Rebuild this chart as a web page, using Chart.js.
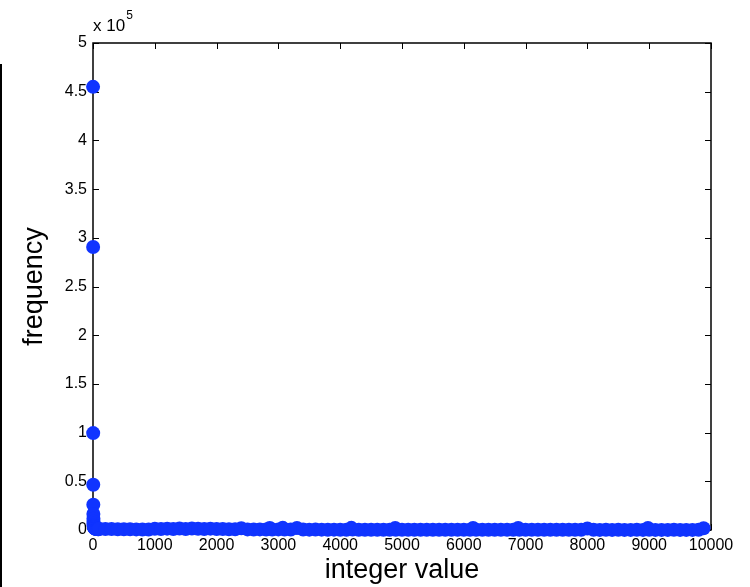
<!DOCTYPE html>
<html>
<head>
<meta charset="utf-8">
<script src="https://cdn.jsdelivr.net/npm/chart.js@4/dist/chart.umd.min.js"></script>
<style>
  html, body { margin: 0; padding: 0; background: #fff; }
  #wrap { position: relative; width: 750px; height: 587px; }
  canvas { display: block; }
</style>
</head>
<body>
<div id="wrap"><canvas id="c" width="750" height="587"></canvas></div>
<script>
// ---- data ----
const integerValues = [
  1,2,3,4,5,6,7,8,9,10,12,14,16,18,20,25,30,35,40,50,60,70,80,90,
  100,200,300,400,500,600,700,800,900,1000,1100,1200,1300,1400,1500,1600,1700,1800,1900,
  2000,2100,2200,2300,2400,2500,2600,2700,2800,2860,2900,3000,3070,3100,3200,3300,3400,3500,
  3600,3700,3800,3900,4000,4100,4180,4200,4300,4400,4500,4600,4700,4800,4890,4900,5000,
  5100,5200,5300,5400,5500,5600,5700,5800,5900,6000,6100,6150,6200,6300,6400,6500,6600,
  6700,6800,6880,6900,7000,7100,7200,7300,7400,7500,7600,7700,7800,7900,8000,8100,8200,
  8300,8400,8500,8600,8700,8800,8900,8980,9000,9100,9200,9300,9400,9500,9600,9700,9800,9880
];
const frequencies = [
  455000,290500,99500,46500,26000,16500,11500,8500,6500,5200,4200,3500,3000,2600,2300,2000,1700,1500,1300,1100,1000,900,850,800,
  1300,1100,900,800,700,650,600,550,500,1200,900,1400,1000,1500,1100,1600,1300,1000,1400,
  900,1100,800,700,1800,600,500,600,500,2000,500,600,2200,500,400,2000,400,350,
  400,350,300,350,300,300,2200,400,300,300,250,300,250,300,2000,300,250,
  250,200,250,200,250,200,200,250,200,200,250,2000,200,200,200,150,200,
  150,200,2000,200,150,150,200,150,150,150,200,150,150,150,1500,150,100,
  150,100,150,100,100,150,100,2000,150,100,100,100,150,100,100,100,150,1800
];
const xTicks = [0,1000,2000,3000,4000,5000,6000,7000,8000,9000,10000];
const yTicks = [0,50000,100000,150000,200000,250000,300000,350000,400000,450000,500000];
const yExponentLabel = ['x 10', '5'];

const points = integerValues.map((x, i) => ({ x: x, y: frequencies[i] }));
const FONT = '"Liberation Sans", Arial, Helvetica, sans-serif';

const framePlugin = {
  id: 'frame',
  beforeDatasetsDraw(chart) {
    const { ctx, chartArea: a, scales } = chart;
    ctx.save();
    ctx.strokeStyle = '#000';
    ctx.lineWidth = 1.5;
    ctx.strokeRect(a.left, a.top, a.right - a.left, a.bottom - a.top);
    ctx.lineWidth = 1;
    const L = 6;
    ctx.beginPath();
    xTicks.forEach(v => {
      const px = Math.round(scales.x.getPixelForValue(v)) + 0.5;
      ctx.moveTo(px, a.bottom); ctx.lineTo(px, a.bottom - L);
      ctx.moveTo(px, a.top); ctx.lineTo(px, a.top + L);
    });
    yTicks.forEach(v => {
      const py = Math.round(scales.y.getPixelForValue(v)) + 0.5;
      ctx.moveTo(a.left, py); ctx.lineTo(a.left + L, py);
      ctx.moveTo(a.right, py); ctx.lineTo(a.right - L, py);
    });
    ctx.stroke();
    // exponent label
    ctx.fillStyle = '#000';
    ctx.textBaseline = 'alphabetic';
    ctx.textAlign = 'left';
    ctx.font = '17px ' + FONT;
    ctx.fillText(yExponentLabel[0], a.left, 31);
    const w = ctx.measureText(yExponentLabel[0]).width;
    ctx.font = '12px ' + FONT;
    ctx.fillText(yExponentLabel[1], a.left + w + 1, 19);
    // stray left border line seen in the reference
    ctx.fillRect(0, 64, 2, 523);
    ctx.restore();
  }
};

new Chart(document.getElementById('c'), {
  type: 'scatter',
  data: {
    datasets: [{
      data: points,
      backgroundColor: '#1034ff',
      borderWidth: 0,
      pointRadius: 7,
      pointHoverRadius: 7,
      clip: false
    }]
  },
  options: {
    responsive: false,
    animation: false,
    events: [],
    layout: { padding: { top: 43, right: 39, left: 0, bottom: 0 } },
    plugins: { legend: { display: false }, tooltip: { enabled: false } },
    scales: {
      x: {
        type: 'linear',
        min: 0, max: 10000,
        afterFit: s => { s.height = 57; },
        afterBuildTicks: s => { s.ticks = xTicks.map(v => ({ value: v })); },
        grid: { display: false, drawTicks: false },
        border: { display: false },
        ticks: {
          padding: 6,
          color: '#000',
          font: { family: FONT, size: 16 },
          maxRotation: 0,
          autoSkip: false,
          callback: v => String(v)
        },
        title: {
          display: true,
          text: 'integer value',
          color: '#000',
          font: { family: FONT, size: 27 },
          padding: { top: 0, bottom: 0 }
        }
      },
      y: {
        type: 'linear',
        min: 0, max: 500000,
        afterFit: s => { s.width = 93; },
        afterBuildTicks: s => { s.ticks = yTicks.map(v => ({ value: v })); },
        grid: { display: false, drawTicks: false },
        border: { display: false },
        ticks: {
          padding: 6,
          color: '#000',
          font: { family: FONT, size: 16 },
          autoSkip: false,
          callback: v => String(v / 100000)
        },
        title: {
          display: true,
          text: 'frequency',
          color: '#000',
          font: { family: FONT, size: 27 },
          padding: { top: 18, bottom: 0 }
        }
      }
    }
  },
  plugins: [framePlugin]
});
</script>
</body>
</html>
